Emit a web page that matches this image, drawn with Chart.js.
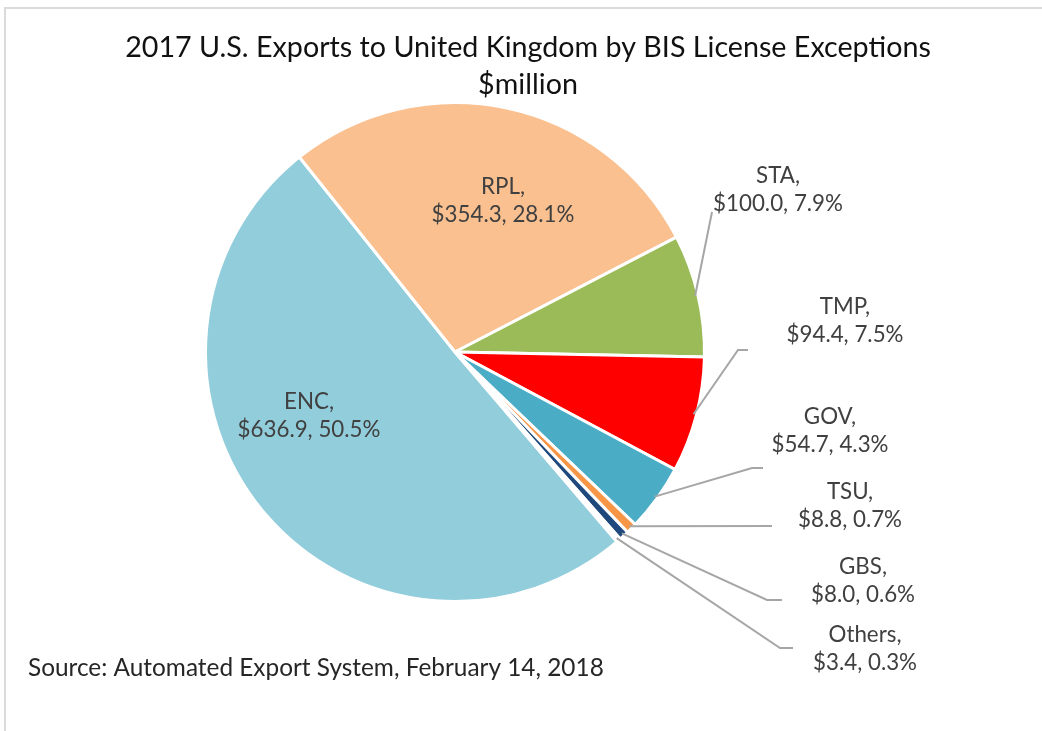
<!DOCTYPE html>
<html>
<head>
<meta charset="utf-8">
<script src="https://cdn.jsdelivr.net/npm/chart.js@4"></script>
<style>
    html, body { margin: 0; padding: 0; background: #ffffff; }
    #wrap { width: 1042px; height: 731px; position: relative; }
</style>
</head>
<body>
<div id="wrap"><canvas id="pie"></canvas></div>
<script>
// chart data
const categories = ['ENC', 'RPL', 'STA', 'TMP', 'GOV', 'TSU', 'GBS', 'Others'];
const values = [636.9, 354.3, 100.0, 94.4, 54.7, 8.8, 8.0, 3.4];
const percentLabels = ['50.5%', '28.1%', '7.9%', '7.5%', '4.3%', '0.7%', '0.6%', '0.3%'];
const sliceColors = ['#92CDDC', '#FAC090', '#9BBB59', '#FF0000', '#4BACC6', '#F79646', '#1F497D', '#FFFFFF'];

const titleLines = ['2017 U.S. Exports to United Kingdom by BIS License Exceptions', '$million'];
const sourceText = 'Source: Automated Export System, February 14, 2018';

const FONT = 'Lato, "Open Sans", sans-serif';

// where each label sits; inside labels have no leader line,
// outside ones have an elbow point (null = straight line)
const labelLayout = [
    { x: 309, y: 416, inside: true },
    { x: 503, y: 201, inside: true },
    { x: 778, y: 190, end: [712, 212], elbow: null },
    { x: 845, y: 321, end: [748, 350], elbow: [738, 350] },
    { x: 830, y: 431, end: [763, 468], elbow: [752, 468] },
    { x: 850, y: 506, end: [772, 526], elbow: null },
    { x: 863, y: 581, end: [782, 600], elbow: [767, 600] },
    { x: 865, y: 649, end: [793, 648], elbow: [780, 648] }
];

function fitSize(ctx, text, width, weight) {
    ctx.font = (weight || '') + ' 100px ' + FONT;
    return 100 * width / ctx.measureText(text).width;
}

const textPlugin = {
    id: 'textPlugin',
    beforeDraw(chart) {
        const ctx = chart.ctx;
        ctx.save();
        ctx.fillStyle = '#ffffff';
        ctx.fillRect(0, 0, chart.width, chart.height);
        // frame of the original picture
        ctx.strokeStyle = '#DADADA';
        ctx.lineWidth = 2;
        ctx.beginPath();
        ctx.moveTo(5, chart.height);
        ctx.lineTo(5, 8);
        ctx.lineTo(chart.width, 8);
        ctx.stroke();
        ctx.restore();
    },
    afterDraw(chart) {
        const ctx = chart.ctx;
        const arcs = chart.getDatasetMeta(0).data;
        ctx.save();
        ctx.textAlign = 'center';
        ctx.textBaseline = 'middle';

        // title
        const tSize = fitSize(ctx, titleLines[0], 806);
        ctx.font = tSize + 'px ' + FONT;
        ctx.fillStyle = '#111111';
        ctx.fillText(titleLines[0], 528, 48);
        ctx.fillText(titleLines[1], 528, 85);

        // source
        const sSize = fitSize(ctx, sourceText, 576);
        ctx.font = sSize + 'px ' + FONT;
        ctx.fillStyle = '#262626';
        ctx.textAlign = 'left';
        ctx.fillText(sourceText, 28, 668);

        // slice labels
        const lSize = fitSize(ctx, '$100.0, 7.9%', 130);
        ctx.font = lSize + 'px ' + FONT;
        ctx.textAlign = 'center';
        categories.forEach((name, i) => {
            const lay = labelLayout[i];
            if (!lay.inside) {
                const arc = arcs[i];
                const mid = (arc.startAngle + arc.endAngle) / 2;
                const sx = arc.x + Math.cos(mid) * (arc.outerRadius - 3);
                const sy = arc.y + Math.sin(mid) * (arc.outerRadius - 3);
                ctx.strokeStyle = '#A6A6A6';
                ctx.lineWidth = 2;
                ctx.beginPath();
                ctx.moveTo(sx, sy);
                if (lay.elbow) ctx.lineTo(lay.elbow[0], lay.elbow[1]);
                ctx.lineTo(lay.end[0], lay.end[1]);
                ctx.stroke();
            }
            ctx.fillStyle = '#404040';
            ctx.fillText(name + ',', lay.x, lay.y - 14);
            ctx.fillText('$' + values[i].toFixed(1) + ', ' + percentLabels[i], lay.x, lay.y + 14);
        });
        ctx.restore();
    }
};

const canvas = document.getElementById('pie');
new Chart(canvas.getContext('2d'), {
    type: 'pie',
    data: {
        labels: categories,
        datasets: [{
            data: values,
            backgroundColor: sliceColors,
            borderColor: '#ffffff',
            borderWidth: 3
        }]
    },
    options: {
        responsive: true,
        maintainAspectRatio: false,
        animation: false,
        rotation: 139.5,
        layout: {
            padding: { left: 204, right: 336, top: 101, bottom: 128 }
        },
        plugins: {
            legend: { display: false },
            title: { display: false },
            tooltip: { enabled: false }
        }
    },
    plugins: [textPlugin]
});
</script>
</body>
</html>
